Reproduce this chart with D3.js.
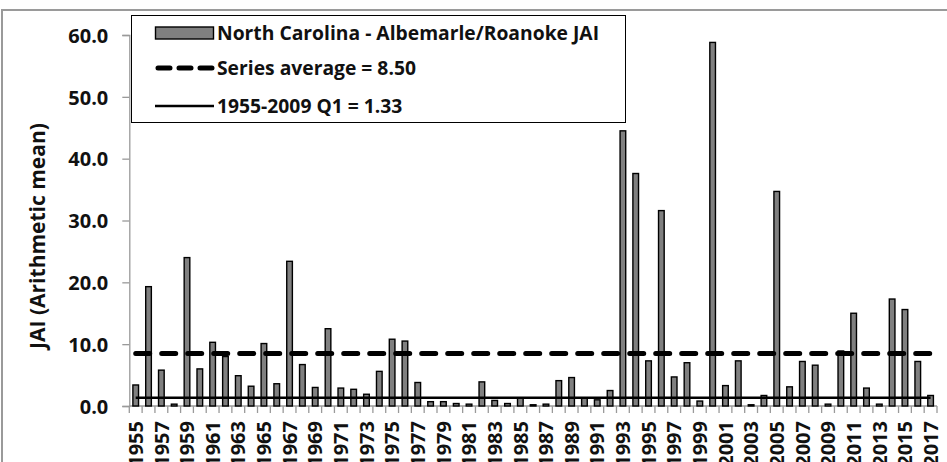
<!DOCTYPE html>
<html>
<head>
<meta charset="utf-8">
<script src="https://cdn.jsdelivr.net/npm/d3@7"></script>
<style>
  body { margin: 0; background: #fff; }
  svg text { font-family: "Open Sans", "Liberation Sans", sans-serif; font-weight: 700; fill: #111; }
</style>
</head>
<body>
<div id="chart-container"></div>
<script>
// JAI values per year
const years = d3.range(1955, 2018);
const jai = [3.4, 19.3, 5.8, 0.3, 24.0, 6.0, 10.3, 8.0, 4.9, 3.2,
  10.1, 3.6, 23.4, 6.7, 3.0, 12.5, 2.9, 2.7, 1.9, 5.6,
  10.8, 10.5, 3.8, 0.7, 0.7, 0.4, 0.3, 3.9, 0.9, 0.4,
  1.3, 0.2, 0.3, 4.1, 4.6, 1.3, 1.0, 2.5, 44.5, 37.6,
  7.3, 31.6, 4.7, 7.0, 0.8, 58.8, 3.3, 7.3, 0.2, 1.7,
  34.7, 3.1, 7.2, 6.6, 0.3, 8.9, 15.0, 2.9, 0.3, 17.3,
  15.6, 7.2, 1.7];
const seriesAverage = 8.50;
const q1 = 1.33;
const yTicks = [0, 10, 20, 30, 40, 50, 60];
const legendLabels = ["North Carolina - Albemarle/Roanoke JAI", "Series average = 8.50", "1955-2009 Q1 = 1.33"];

const width = 947, height = 462;
const plotLeft = 129.3, plotRight = 937, plotTop = 35, plotBottom = 406;

const svg = d3.select("#chart-container")
  .append("svg")
  .attr("width", width)
  .attr("height", height);

// chart area frame (cropped)
svg.append("path")
  .attr("d", `M2,${height} L2,10 L${width},10`)
  .attr("fill", "none")
  .attr("stroke", "#9a9a9a")
  .attr("stroke-width", 2);

const x = d3.scaleBand()
  .domain(years)
  .range([plotLeft, plotRight])
  .paddingInner(0.56)
  .paddingOuter(0.28);

const xc = d3.scaleBand().domain(years).range([plotLeft, plotRight]);

const y = d3.scaleLinear()
  .domain([0, 60])
  .range([plotBottom, plotTop]);

// y axis
const yAxis = svg.append("g")
  .attr("transform", `translate(${plotLeft},0)`)
  .call(d3.axisLeft(y).tickValues(yTicks).tickFormat(d3.format(".1f")).tickSize(7).tickPadding(14));
yAxis.select(".domain").attr("stroke", "#9a9a9a").attr("stroke-width", 1.3);
yAxis.selectAll(".tick line").attr("stroke", "#9a9a9a").attr("stroke-width", 1.3);
yAxis.selectAll(".tick text")
  .style("font-size", "20px")
  .attr("dy", "0.36em");

// x axis: ticks on category boundaries
const xAxis = svg.append("g")
  .attr("transform", `translate(0,${plotBottom})`);
xAxis.append("line")
  .attr("x1", plotLeft).attr("x2", plotRight)
  .attr("stroke", "#9a9a9a").attr("stroke-width", 1.3);
xAxis.selectAll(".xtick")
  .data(years.concat([2018]))
  .enter()
  .append("line")
  .attr("class", "xtick")
  .attr("x1", d => d === 2018 ? plotRight : xc(d))
  .attr("x2", d => d === 2018 ? plotRight : xc(d))
  .attr("y1", 0).attr("y2", 7)
  .attr("stroke", "#9a9a9a").attr("stroke-width", 1.3);
xAxis.selectAll(".xlabel")
  .data(years.filter((d, i) => i % 2 === 0))
  .enter()
  .append("text")
  .attr("class", "xlabel")
  .attr("transform", d => `translate(${xc(d) + xc.bandwidth() / 2},15) rotate(-90)`)
  .attr("text-anchor", "end")
  .attr("dy", "0.36em")
  .style("font-size", "20px")
  .text(d => d);

// y axis title
svg.append("text")
  .attr("transform", "translate(45,236) rotate(-90)")
  .attr("text-anchor", "middle")
  .style("font-size", "21px")
  .text("JAI (Arithmetic mean)");

// bars
svg.selectAll(".bar")
  .data(jai)
  .enter()
  .append("rect")
  .attr("class", "bar")
  .attr("x", (d, i) => x(years[i]))
  .attr("y", d => y(d))
  .attr("width", x.bandwidth())
  .attr("height", d => y(0) - y(d))
  .attr("fill", "#808080")
  .attr("stroke", "#000")
  .attr("stroke-width", 1.4);

// average and Q1 lines
const line = d3.line()
  .x(d => xc(d[0]) + xc.bandwidth() / 2)
  .y(d => y(d[1]));

svg.append("path")
  .attr("d", line(years.map(d => [d, seriesAverage])))
  .attr("fill", "none")
  .attr("stroke", "#000")
  .attr("stroke-width", 5)
  .attr("stroke-linecap", "round")
  .attr("stroke-dasharray", "14 12");

svg.append("path")
  .attr("d", line(years.map(d => [d, q1])))
  .attr("fill", "none")
  .attr("stroke", "#000")
  .attr("stroke-width", 2.6);

// legend
const legend = svg.append("g");
legend.append("rect")
  .attr("x", 131.5).attr("y", 15.5)
  .attr("width", 494).attr("height", 107)
  .attr("fill", "#fff")
  .attr("stroke", "#000")
  .attr("stroke-width", 1);

const rowY = [33, 68, 106];
legend.append("rect")
  .attr("x", 155.5).attr("y", rowY[0] - 6)
  .attr("width", 58).attr("height", 12)
  .attr("fill", "#808080").attr("stroke", "#000").attr("stroke-width", 1.4);
legend.append("line")
  .attr("x1", 158).attr("x2", 213)
  .attr("y1", rowY[1]).attr("y2", rowY[1])
  .attr("stroke", "#000").attr("stroke-width", 5)
  .attr("stroke-linecap", "round")
  .attr("stroke-dasharray", "12 9");
legend.append("line")
  .attr("x1", 155).attr("x2", 214)
  .attr("y1", rowY[2]).attr("y2", rowY[2])
  .attr("stroke", "#000").attr("stroke-width", 2.6);

legend.selectAll(".ltext")
  .data(legendLabels)
  .enter()
  .append("text")
  .attr("class", "ltext")
  .attr("x", 217)
  .attr("y", (d, i) => rowY[i])
  .attr("dy", "0.36em")
  .style("font-size", "19.3px")
  .text(d => d);
</script>
</body>
</html>
